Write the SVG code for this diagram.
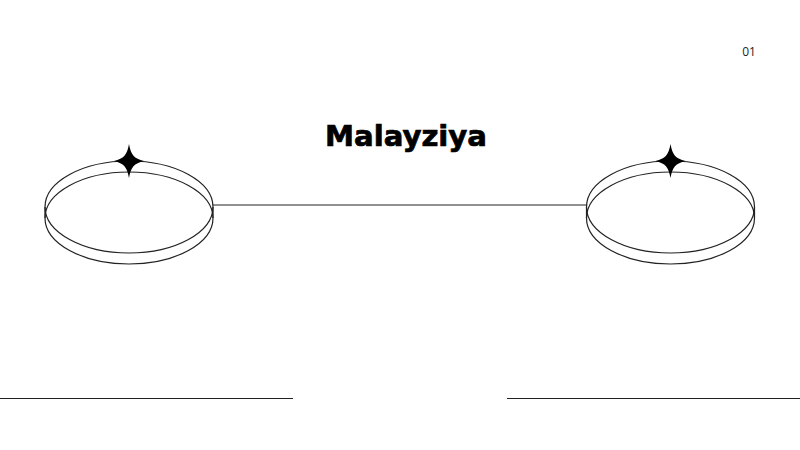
<svg xmlns="http://www.w3.org/2000/svg" width="800" height="450" viewBox="0 0 800 450">
<defs>
<style>
.ring{fill:none;stroke:#222;stroke-width:1.2}
.conn{fill:none;stroke:#222;stroke-width:1.2}
.star{fill:#000}
.title{font-family:"DejaVu Sans","Liberation Sans",sans-serif;font-weight:bold;font-size:28px;fill:#000;stroke:#000;stroke-width:0.7}
.num{font-family:"Open Sans","Liberation Sans",Arial,sans-serif;font-size:12px;fill:#222}
</style>
<path id="star" d="M0,-17 C2,-6 5,-2.5 15,0 C5,2.5 2,6 0,17 C-2,6 -5,2.5 -15,0 C-5,-2.5 -2,-6 0,-17 Z"/>
</defs>
<rect width="800" height="450" fill="#fff"/>
<text class="num" x="749" y="56" text-anchor="middle">01</text>
<text class="title" x="406" y="146" text-anchor="middle" textLength="162" lengthAdjust="spacingAndGlyphs">Malayziya</text>
<g id="connectors">
<line class="conn" x1="213" y1="205" x2="587" y2="205"/>
<line class="conn" x1="0" y1="398.5" x2="293" y2="398.5"/>
<line class="conn" x1="507" y1="398.5" x2="800" y2="398.5"/>
</g>
<g id="node-left">
<ellipse class="ring" cx="129" cy="207" rx="84" ry="46"/>
<ellipse class="ring" cx="129" cy="218" rx="84" ry="46"/>
<line class="ring" x1="45" y1="207" x2="45" y2="218"/>
<line class="ring" x1="213" y1="207" x2="213" y2="218"/>
<use href="#star" class="star" x="129" y="161"/>
</g>
<g id="node-right">
<ellipse class="ring" cx="670.5" cy="207" rx="84" ry="46"/>
<ellipse class="ring" cx="670.5" cy="218" rx="84" ry="46"/>
<line class="ring" x1="586.5" y1="207" x2="586.5" y2="218"/>
<line class="ring" x1="754.5" y1="207" x2="754.5" y2="218"/>
<use href="#star" class="star" x="670.5" y="161"/>
</g>
</svg>
